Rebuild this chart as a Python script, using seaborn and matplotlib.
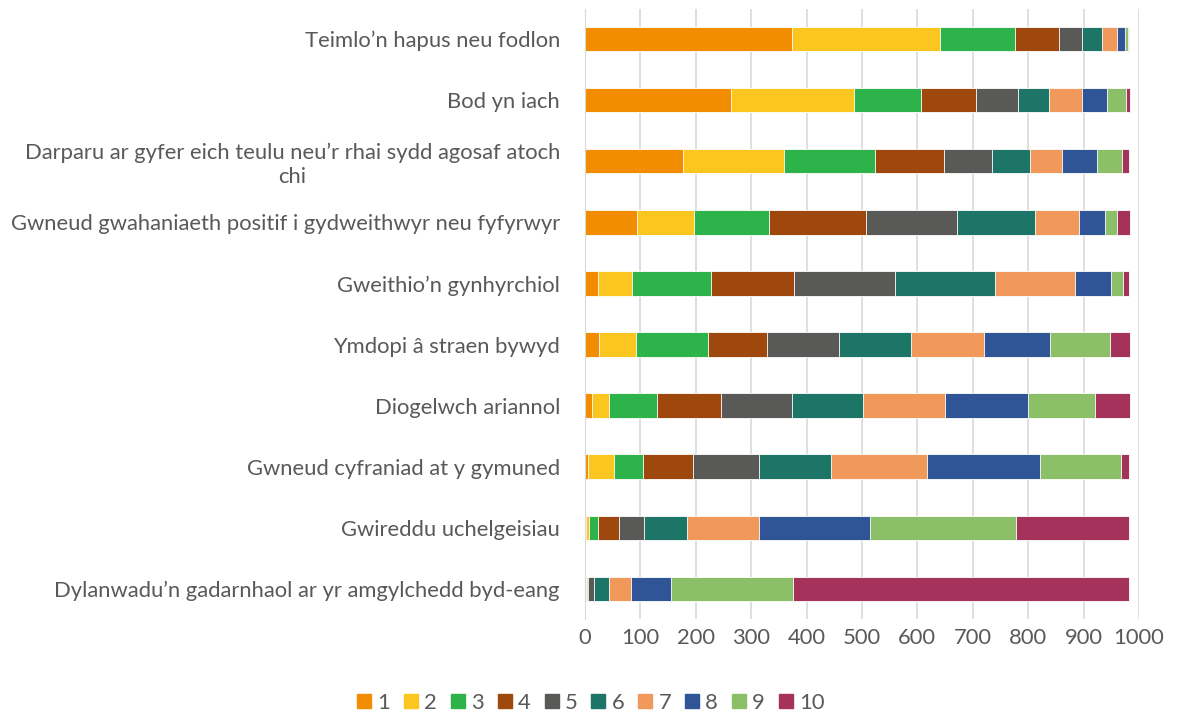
import pandas as pd
import matplotlib.pyplot as plt
import seaborn as sns
from matplotlib.lines import Line2D

# Categories (top to bottom)
categories = [
    "Teimlo’n hapus neu fodlon",
    "Bod yn iach",
    "Darparu ar gyfer eich teulu neu’r rhai sydd agosaf atoch\nchi",
    "Gwneud gwahaniaeth positif i gydweithwyr neu fyfyrwyr",
    "Gweithio’n gynhyrchiol",
    "Ymdopi â straen bywyd",
    "Diogelwch ariannol",
    "Gwneud cyfraniad at y gymuned",
    "Gwireddu uchelgeisiau",
    "Dylanwadu’n gadarnhaol ar yr amgylchedd byd-eang",
]

# Counts for each rank 1..10, one value per category
r1 = [374, 264, 177, 94, 23, 25, 12, 6, 1, 1]
r2 = [266, 222, 183, 102, 62, 68, 32, 46, 7, 1]
r3 = [136, 120, 164, 137, 143, 129, 86, 52, 15, 1]
r4 = [79, 99, 125, 175, 150, 107, 115, 91, 38, 2]
r5 = [42, 76, 86, 163, 181, 130, 128, 120, 46, 11]
r6 = [37, 57, 69, 141, 182, 130, 129, 130, 77, 28]
r7 = [27, 60, 57, 79, 144, 131, 148, 173, 130, 39]
r8 = [14, 45, 63, 47, 64, 120, 150, 203, 200, 73]
r9 = [5, 33, 46, 22, 22, 108, 121, 147, 264, 219]
r10 = [2, 7, 12, 23, 11, 36, 62, 14, 204, 607]

ranks = ["1", "2", "3", "4", "5", "6", "7", "8", "9", "10"]
colors = ["#F28C00", "#FCC620", "#2EB34B", "#9E480E", "#595957",
          "#1C7566", "#F0995B", "#2F5597", "#8BC068", "#A5325A"]

df = pd.DataFrame({"category": categories, "1": r1, "2": r2, "3": r3, "4": r4,
                   "5": r5, "6": r6, "7": r7, "8": r8, "9": r9, "10": r10})
cum = df[ranks].cumsum(axis=1)
cum["category"] = df["category"]

sns.set_style("white")
plt.rcParams['font.family'] = ['Lato', 'DejaVu Sans']

fig = plt.figure(figsize=(11.81, 7.16), dpi=100)
ax = fig.add_axes([0.4953, 0.135, 0.4691, 0.853])

# stacked bars: draw cumulative totals from the largest down
for rank, col in zip(ranks[::-1], colors[::-1]):
    sns.barplot(data=cum, x=rank, y="category", color=col, width=0.4,
                orient="h", ax=ax, saturation=1, edgecolor="white", linewidth=0.6)

ax.set_xlim(0, 1000)
ax.set_xticks(range(0, 1001, 100))
ax.set_xlabel("")
ax.set_ylabel("")
ax.grid(axis="x", color="#d9d9d9", linewidth=1.2)
ax.set_axisbelow(True)
for s in ["top", "right", "bottom"]:
    ax.spines[s].set_visible(False)
ax.spines["left"].set_color("#d9d9d9")
ax.tick_params(axis="both", length=0, labelsize=15.8, colors="#595959")
ax.tick_params(axis="y", pad=18)
ax.tick_params(axis="x", pad=6)
for lab in ax.get_yticklabels():
    lab.set_multialignment("center")

handles = [Line2D([0], [0], marker="s", linestyle="", markersize=10,
                  markerfacecolor=c, markeredgecolor=c) for c in colors]
fig.legend(handles, ranks, loc="center", bbox_to_anchor=(0.5, 0.018), ncol=10,
           frameon=False, fontsize=15.8, labelcolor="#595959", handlelength=0.7,
           handletextpad=0.25, columnspacing=0.6)

plt.savefig("out.png", dpi=100)
